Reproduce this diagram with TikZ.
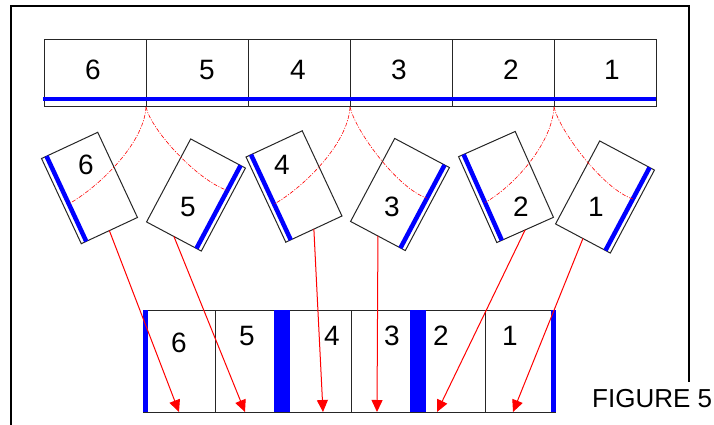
\documentclass[tikz,border=0pt]{standalone}
\usepackage{fontspec}
\setmainfont{Liberation Sans}
\usetikzlibrary{positioning,calc,arrows.meta}

\begin{document}
\begin{tikzpicture}[
			x=1pt, y=-1pt,
			node distance=0pt,
			font=\fontsize{28}{30}\selectfont,
			cell/.style={
				rectangle,
				draw=black!85,
				line width=1pt,
				inner sep=0pt,
				outer sep=0pt,
				minimum height=67pt,
				minimum width=102pt
			},
			slot/.style={
				cell,
				minimum height=102pt
			},
			block/.style={
				rectangle,
				draw=black!85,
				line width=1pt,
				inner sep=0pt,
				outer sep=0pt,
				minimum width=62pt,
				minimum height=94pt
			},
			digit/.style={
				inner sep=0pt
			},
			spine/.style={blue, line width=4.5pt},
			swing/.style={red, line width=0.6pt, dash pattern=on 4pt off 1.5pt on 1pt off 1.5pt},
			move/.style={red, line width=1pt, -{Triangle[length=12pt,width=11pt]}}
			]
			\useasboundingbox (0,0) rectangle (714,425);
			
			% the frame round the figure
			\draw [line width=1.5pt] (11,425) -- (11,6) -- (689,6) -- (689,382);
			
			% We start with the upper row
			\node [cell] (top6) at (95,73.5) {};
			\node [cell, right=of top6] (top5) {};
			\node [cell, right=of top5] (top4) {};
			\node [cell, right=of top4] (top3) {};
			\node [cell, right=of top3] (top2) {};
			\node [cell, right=of top2] (top1) {};
			
			\node [digit] (topn6) at ([xshift=-2pt,yshift=3.5pt]top6.center) {6};
			\node [digit] (topn5) at ([xshift=10pt,yshift=3.5pt]top5.center) {5};
			\node [digit] (topn4) at ([xshift=-1pt,yshift=3.5pt]top4.center) {4};
			\node [digit] (topn3) at ([xshift=-2pt,yshift=3.5pt]top3.center) {3};
			\node [digit] (topn2) at ([xshift=8pt,yshift=3.5pt]top2.center) {2};
			\node [digit] (topn1) at ([xshift=7pt,yshift=3.5pt]top1.center) {1};
			
			\draw [spine] ([xshift=-1pt,yshift=8pt]top6.south west) -- ([yshift=8pt]top1.south east);
			
			% the turned blocks
			\node [block, rotate=25] (blk6) at (89.5,188) {};
			\node [block, rotate=-28] (blk5) at (196,195) {};
			\node [block, rotate=25] (blk4) at (294,186.5) {};
			\node [block, rotate=-28] (blk3) at (400,194.5) {};
			\node [block, rotate=24] (blk2) at (506,187) {};
			\node [block, rotate=-28] (blk1) at (605,197) {};
			
			\node [digit] (blkn6) at ([xshift=-3.5pt,yshift=23pt]blk6.center) {6};
			\node [digit] (blkn5) at ([xshift=-8pt,yshift=-12pt]blk5.center) {5};
			\node [digit] (blkn4) at ([xshift=-12pt,yshift=21.5pt]blk4.center) {4};
			\node [digit] (blkn3) at ([xshift=-8pt,yshift=-12.5pt]blk3.center) {3};
			\node [digit] (blkn2) at ([xshift=15pt,yshift=-20pt]blk2.center) {2};
			\node [digit] (blkn1) at ([xshift=-9pt,yshift=-10pt]blk1.center) {1};
			
			\coordinate (s6a) at ($(blk6.north west)!5.5pt!(blk6.north east)$);
			\coordinate (s6b) at ($(blk6.south west)!5.5pt!(blk6.south east)$);
			\coordinate (s5a) at ($(blk5.north east)!5.5pt!(blk5.north west)$);
			\coordinate (s5b) at ($(blk5.south east)!5.5pt!(blk5.south west)$);
			\coordinate (s4a) at ($(blk4.north west)!5.5pt!(blk4.north east)$);
			\coordinate (s4b) at ($(blk4.south west)!5.5pt!(blk4.south east)$);
			\coordinate (s3a) at ($(blk3.north east)!5.5pt!(blk3.north west)$);
			\coordinate (s3b) at ($(blk3.south east)!5.5pt!(blk3.south west)$);
			\coordinate (s2a) at ($(blk2.north west)!5.5pt!(blk2.north east)$);
			\coordinate (s2b) at ($(blk2.south west)!5.5pt!(blk2.south east)$);
			\coordinate (s1a) at ($(blk1.north east)!5.5pt!(blk1.north west)$);
			\coordinate (s1b) at ($(blk1.south east)!5.5pt!(blk1.south west)$);
			
			\draw [spine] (s6a) -- (s6b);
			\draw [spine] (s5a) -- (s5b);
			\draw [spine] (s4a) -- (s4b);
			\draw [spine] (s3a) -- (s3b);
			\draw [spine] (s2a) -- (s2b);
			\draw [spine] (s1a) -- (s1b);
			
			% swing arcs from the joints of the upper row
			\draw [swing] (top6.south east) .. controls +(-2,38) and +(27,-15) .. ($(s6a)!0.56!(s6b)$);
			\draw [swing] (top6.south east) .. controls +(5,23) and +(-30,-10) .. ($(s5a)!0.3!(s5b)$);
			\draw [swing] (top4.south east) .. controls +(-2,38) and +(27,-15) .. ($(s4a)!0.58!(s4b)$);
			\draw [swing] (top4.south east) .. controls +(5,23) and +(-30,-10) .. ($(s3a)!0.4!(s3b)$);
			\draw [swing] (top2.south east) .. controls +(-2,38) and +(27,-15) .. ($(s2a)!0.56!(s2b)$);
			\draw [swing] (top2.south east) .. controls +(5,23) and +(-30,-10) .. ($(s1a)!0.38!(s1b)$);
			
			% the lower row
			\node [slot, minimum width=72pt] (bot6) at (179,361) {};
			\node [slot, minimum width=67pt, right=of bot6] (bot5) {};
			\node [slot, minimum width=69pt, right=of bot5] (bot4) {};
			\node [slot, minimum width=67pt, right=of bot4] (bot3) {};
			\node [slot, minimum width=67pt, right=of bot3] (bot2) {};
			\node [slot, minimum width=70pt, right=of bot2] (bot1) {};
			
			\fill [blue] (bot6.north west) rectangle ([xshift=5pt]bot6.south west);
			\fill [blue] ([xshift=-8pt]bot5.north east) rectangle ([xshift=8pt]bot5.south east);
			\fill [blue] ([xshift=-8pt]bot3.north east) rectangle ([xshift=8pt]bot3.south east);
			\fill [blue] ([xshift=-4pt]bot1.north east) rectangle ([xshift=1pt]bot1.south east);
			
			\node [digit] (botn6) at ([yshift=18pt]bot6.center) {6};
			\node [digit] (botn5) at ([xshift=-1.5pt,yshift=25pt]bot5.center) {5};
			\node [digit] (botn4) at ([xshift=15.5pt,yshift=25pt]bot4.center) {4};
			\node [digit] (botn3) at ([xshift=7.5pt,yshift=25pt]bot3.center) {3};
			\node [digit] (botn2) at ([xshift=-10.5pt,yshift=25pt]bot2.center) {2};
			\node [digit] (botn1) at ([xshift=-10pt,yshift=25pt]bot1.center) {1};
			
			% moves down to the lower row
			\draw [move] (blk6.south) -- (bot6.south);
			\draw [move] (blk5.south) -- ([xshift=-3.5pt]bot5.south);
			\draw [move] (blk4.south) -- ([xshift=6.5pt]bot4.south);
			\draw [move] (blk3.south) -- ([xshift=-7.5pt]bot3.south);
			\draw [move] (blk2.south) -- ([xshift=-14.5pt]bot2.south);
			\draw [move] (blk1.south) -- ([xshift=-7pt]bot1.south);
			
			\node [anchor=base west, inner sep=0pt, font=\fontsize{26}{28}\selectfont] (caption) at (592,407) {FIGURE 5};
			
\end{tikzpicture}
\end{document}
